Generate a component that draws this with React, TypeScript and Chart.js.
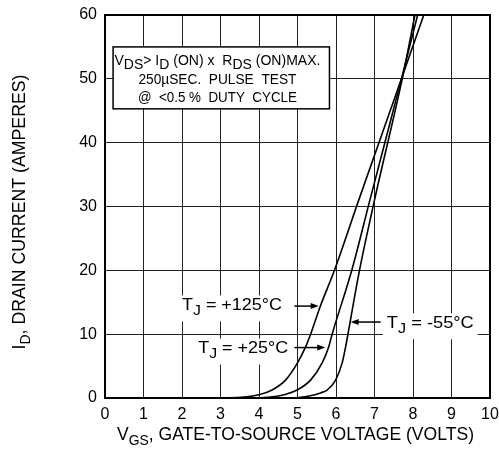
import React, { useEffect, useRef } from "react";
import { Chart, registerables } from "chart.js";

Chart.register(...registerables);

// ---- data ----
const vgs125 = [3.0, 3.6, 4.0, 4.34, 4.69, 5.0, 5.21, 5.34, 5.6, 5.96, 6.59, 7.7, 8.28];
const id125 = [0, 0.15, 0.5, 1.25, 2.8, 5.5, 8, 10, 14.5, 20, 31, 50, 60];

const vgs25 = [3.7, 4.3, 4.7, 4.99, 5.34, 5.64, 5.81, 5.9, 6.41, 6.88, 7.7, 8.12];
const id25 = [0, 0.15, 0.6, 1.25, 2.8, 5.5, 8, 10, 20, 31, 50, 60];

const vgsM55 = [4.9, 5.3, 5.6, 5.77, 5.99, 6.16, 6.25, 6.31, 6.61, 7.0, 7.72, 8.05];
const idM55 = [0, 0.3, 0.8, 1.25, 2.8, 5.5, 8, 10, 20, 31, 50, 60];

const xTickValues = [0, 1, 2, 3, 4, 5, 6, 7, 8, 9, 10];
const yTickValues = [0, 10, 20, 30, 40, 50, 60];

const FONT = '"Liberation Sans", Arial, Helvetica, sans-serif';

type Part = { t: string; sub?: boolean };

function measureRich(ctx: CanvasRenderingContext2D, parts: Part[], size: number, subSize: number) {
  return parts.map((p) => {
    ctx.font = `${p.sub ? subSize : size}px ${FONT}`;
    return ctx.measureText(p.t).width;
  });
}

function drawRich(
  ctx: CanvasRenderingContext2D,
  parts: Part[],
  x: number,
  y: number,
  size: number,
  subSize: number,
  subDrop: number,
  align: "left" | "center",
  fitWidth?: number,
  bg?: boolean
) {
  const widths = measureRich(ctx, parts, size, subSize);
  const natural = widths.reduce((a, b) => a + b, 0);
  const sx = fitWidth ? fitWidth / natural : 1;
  const total = natural * sx;
  const x0 = align === "center" ? x - total / 2 : x;
  if (bg) {
    ctx.save();
    ctx.fillStyle = "#fff";
    ctx.fillRect(x0 - 4, y - size * 0.85, total + 8, size * 0.85 + subDrop + subSize * 0.3 + 2);
    ctx.restore();
  }
  ctx.save();
  ctx.translate(x0, y);
  ctx.scale(sx, 1);
  ctx.textBaseline = "alphabetic";
  ctx.textAlign = "left";
  ctx.fillStyle = "#000";
  let cx = 0;
  parts.forEach((p, i) => {
    ctx.font = `${p.sub ? subSize : size}px ${FONT}`;
    ctx.fillText(p.t, cx, p.sub ? subDrop : 0);
    cx += widths[i];
  });
  ctx.restore();
  return total;
}

function arrow(ctx: CanvasRenderingContext2D, x1: number, y1: number, x2: number, y2: number) {
  const ang = Math.atan2(y2 - y1, x2 - x1);
  const hl = 8;
  const hw = 3;
  ctx.save();
  ctx.strokeStyle = "#000";
  ctx.fillStyle = "#000";
  ctx.lineWidth = 1.5;
  ctx.beginPath();
  ctx.moveTo(x1, y1);
  ctx.lineTo(x2 - Math.cos(ang) * hl * 0.8, y2 - Math.sin(ang) * hl * 0.8);
  ctx.stroke();
  ctx.beginPath();
  ctx.moveTo(x2, y2);
  ctx.lineTo(x2 - Math.cos(ang) * hl - Math.sin(ang) * hw, y2 - Math.sin(ang) * hl + Math.cos(ang) * hw);
  ctx.lineTo(x2 - Math.cos(ang) * hl + Math.sin(ang) * hw, y2 - Math.sin(ang) * hl - Math.cos(ang) * hw);
  ctx.closePath();
  ctx.fill();
  ctx.restore();
}

const annotationPlugin = {
  id: "annotations",
  afterDatasetsDraw(chart: any) {
    const ctx: CanvasRenderingContext2D = chart.ctx;
    const xs = chart.scales.x;
    const ys = chart.scales.y;
    const px = (v: number) => xs.getPixelForValue(v);
    const py = (v: number) => ys.getPixelForValue(v);

    // info box
    const bx0 = px(0.21), bx1 = px(5.83), by0 = py(55.0), by1 = py(45.3);
    ctx.save();
    ctx.fillStyle = "#fff";
    ctx.fillRect(bx0, by0, bx1 - bx0, by1 - by0);
    ctx.strokeStyle = "#000";
    ctx.lineWidth = 1.5;
    ctx.strokeRect(bx0, by0, bx1 - bx0, by1 - by0);
    ctx.restore();
    const tcx = px(2.92);
    drawRich(
      ctx,
      [
        { t: "V" },
        { t: "DS", sub: true },
        { t: "> I" },
        { t: "D", sub: true },
        { t: " (ON) x  R" },
        { t: "DS", sub: true },
        { t: " (ON)MAX." },
      ],
      tcx,
      py(52.2),
      14,
      14,
      4,
      "center",
      206
    );
    drawRich(ctx, [{ t: "250\u00b5SEC.  PULSE  TEST" }], tcx, py(49.2), 14, 14, 0, "center", 158);
    drawRich(ctx, [{ t: "@  <0.5 %  DUTY  CYCLE" }], tcx, py(46.4), 14, 14, 0, "center", 159);

    // curve labels
    drawRich(ctx, [{ t: "T" }, { t: "J", sub: true }, { t: " = +125\u00b0C" }], px(2.0), py(13.8), 17, 15, 5, "left", 100, true);
    arrow(ctx, px(4.92), py(14.4), px(5.55), py(14.4));

    drawRich(ctx, [{ t: "T" }, { t: "J", sub: true }, { t: " = +25\u00b0C" }], px(2.42), py(7.05), 17, 15, 5, "left", 90, true);
    arrow(ctx, px(4.92), py(7.9), px(5.72), py(7.9));

    drawRich(ctx, [{ t: "T" }, { t: "J", sub: true }, { t: " = -55\u00b0C" }], px(7.32), py(11.0), 17, 15, 5, "left", 87, true);
    arrow(ctx, px(7.16), py(11.9), px(6.38), py(11.9));
  },
  afterDraw(chart: any) {
    const ctx: CanvasRenderingContext2D = chart.ctx;
    const a = chart.chartArea;
    ctx.save();
    ctx.strokeStyle = "#000";
    ctx.lineWidth = 2;
    ctx.strokeRect(a.left, a.top, a.right - a.left, a.bottom - a.top);
    ctx.restore();

    // x axis title
    drawRich(
      ctx,
      [{ t: "V" }, { t: "GS", sub: true }, { t: ", GATE-TO-SOURCE VOLTAGE (VOLTS)" }],
      (a.left + a.right) / 2 - 2,
      440,
      19,
      15,
      5,
      "center",
      357
    );

    // y axis title (rotated)
    ctx.save();
    ctx.translate(18, 212);
    ctx.rotate(-Math.PI / 2);
    drawRich(
      ctx,
      [{ t: "I" }, { t: "D", sub: true }, { t: ", DRAIN CURRENT (AMPERES)" }],
      0,
      7,
      19,
      15,
      5,
      "center",
      275
    );
    ctx.restore();
  },
};

function makeSeries(xs: number[], ys: number[]) {
  return xs.map((x, i) => ({ x, y: ys[i] }));
}

export default function App() {
  const ref = useRef<HTMLCanvasElement | null>(null);

  useEffect(() => {
    if (!ref.current) return;
    const lineStyle = {
      borderColor: "#000",
      borderWidth: 1.6,
      pointRadius: 0,
      fill: false,
      cubicInterpolationMode: "monotone" as const,
    };
    const chart = new Chart(ref.current, {
      type: "line",
      data: {
        datasets: [
          { label: "TJ = +125°C", data: makeSeries(vgs125, id125), ...lineStyle },
          { label: "TJ = +25°C", data: makeSeries(vgs25, id25), ...lineStyle },
          { label: "TJ = -55°C", data: makeSeries(vgsM55, idM55), ...lineStyle },
        ],
      },
      options: {
        animation: false,
        responsive: false,
        layout: { padding: { top: 15, right: 9, left: 0, bottom: 0 } },
        plugins: { legend: { display: false }, tooltip: { enabled: false } },
        scales: {
          x: {
            type: "linear",
            min: 0,
            max: 10,
            afterBuildTicks: (s: any) => {
              s.ticks = xTickValues.map((v) => ({ value: v }));
            },
            ticks: {
              color: "#000",
              font: { size: 16, family: FONT },
              padding: 7,
              maxRotation: 0,
              autoSkip: false,
            },
            grid: { color: "#222", lineWidth: 1, drawTicks: false },
            border: { color: "#000", width: 2 },
            afterFit: (s: any) => {
              s.height = 52;
              s.paddingRight = 0;
              s.paddingLeft = 0;
            },
          },
          y: {
            type: "linear",
            min: 0,
            max: 60,
            afterBuildTicks: (s: any) => {
              s.ticks = yTickValues.map((v) => ({ value: v }));
            },
            ticks: {
              color: "#000",
              font: { size: 16, family: FONT },
              padding: 8,
              autoSkip: false,
            },
            grid: { color: "#222", lineWidth: 1, drawTicks: false },
            border: { color: "#000", width: 2 },
            afterFit: (s: any) => {
              s.width = 105;
              s.paddingTop = 0;
              s.paddingBottom = 0;
            },
          },
        },
      },
      plugins: [annotationPlugin],
    });
    return () => chart.destroy();
  }, []);

  return (
    <div style={{ position: "fixed", left: 0, top: 0, width: 499, height: 450, background: "#fff" }}>
      <canvas ref={ref} width={499} height={450} style={{ width: 499, height: 450, display: "block" }} />
    </div>
  );
}
